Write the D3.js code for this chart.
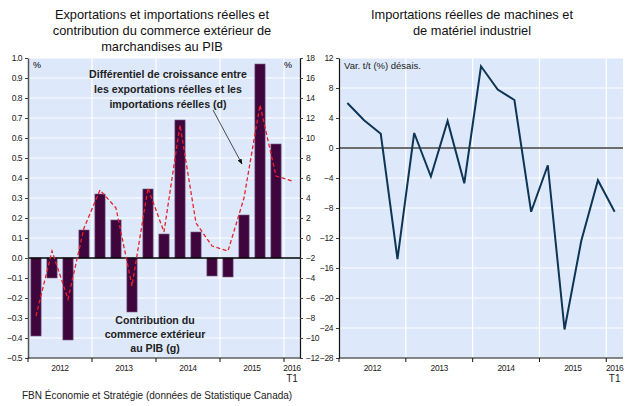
<!DOCTYPE html>
<html>
<head>
<meta charset="utf-8">
<script src="https://cdn.jsdelivr.net/npm/d3@7"></script>
<style>
  body { margin: 0; background: #fff; }
  svg text { font-family: "Liberation Sans", Arial, sans-serif; }
  .tick text { font-family: "Liberation Sans Narrow", "Liberation Sans", Arial, sans-serif; font-size: 8.5px; letter-spacing: -0.5px; fill: #222; }
</style>
</head>
<body>
<div id="chart"></div>
<script>
// quarters from 2012 T1 to 2016 T1
const quarters = ["2012T1","2012T2","2012T3","2012T4","2013T1","2013T2","2013T3","2013T4",
  "2014T1","2014T2","2014T3","2014T4","2015T1","2015T2","2015T3","2015T4","2016T1"];
const years = ["2012", "2013", "2014", "2015", "2016"];

// left chart: contribution to GDP (bars, left axis) and growth differential (dashed, right axis)
const contribution = [-0.39, -0.10, -0.41, 0.14, 0.32, 0.19, -0.27, 0.345,
  0.12, 0.69, 0.13, -0.09, -0.095, 0.215, 0.97, 0.57, null];
const differential = [-7.8, -1.3, -6.1, 1.0, 4.8, 3.0, -4.8, 5.0,
  0.6, 11.3, 1.5, -0.8, -1.3, 4.0, 13.3, 6.2, 5.7];
const leftTicks = [1.0, 0.9, 0.8, 0.7, 0.6, 0.5, 0.4, 0.3, 0.2, 0.1, 0.0, -0.1, -0.2, -0.3, -0.4, -0.5];
const rightTicks = [18, 16, 14, 12, 10, 8, 6, 4, 2, 0, -2, -4, -6, -8, -10, -12];

// right chart: machinery imports q/q
const machinery = [6.0, 3.7, 1.9, -14.8, 2.0, -3.8, 3.6, -4.7,
  10.9, 7.8, 6.4, -8.5, -2.3, -24.2, -12.4, -4.3, -8.5];
const machTicks = [12, 8, 4, 0, -4, -8, -12, -16, -20, -24, -28];

const width = 628, height = 406;
const bg = '#dde9fb';

const svg = d3.select('#chart').append('svg')
  .attr('width', width)
  .attr('height', height);

function quarterAxis(g, x, y0) {
  // year boundaries
  const step = x.step();
  const x0 = x.range()[0];
  const bounds = years.map((d, i) => x0 + i * 4 * step);
  g.append('line')
    .attr('x1', x.range()[0]).attr('x2', x.range()[1])
    .attr('y1', y0).attr('y2', y0)
    .attr('stroke', '#111').attr('stroke-width', 1.2);
  bounds.forEach(bx => {
    g.append('line')
      .attr('x1', bx).attr('x2', bx)
      .attr('y1', y0).attr('y2', y0 + 4)
      .attr('stroke', '#111');
  });
  years.forEach((yr, i) => {
    const cx = i < 4 ? x0 + (i * 4 + 2) * step : x(quarters[16]) + x.bandwidth() / 2;
    g.append('text')
      .attr('x', cx).attr('y', y0 + 13)
      .attr('text-anchor', 'middle')
      .style('font-family', '"Liberation Sans Narrow", "Liberation Sans", Arial')
      .style('font-size', '8.5px').style('letter-spacing', '-0.4px').attr('fill', '#222')
      .text(yr);
  });
  g.append('text')
    .attr('x', x(quarters[16]) + x.bandwidth() / 2).attr('y', y0 + 24)
    .attr('text-anchor', 'middle')
    .style('font-size', '10px').attr('fill', '#222')
    .text('T1');
}

// ---------- left chart ----------
const L = { left: 28, right: 300, top: 58, bottom: 358 };

const xL = d3.scaleBand()
  .domain(quarters)
  .range([L.left, L.right])
  .paddingInner(0.36)
  .paddingOuter(0.18);
const yL = d3.scaleLinear().domain([-0.5, 1.0]).range([L.bottom, L.top]);
const yR = d3.scaleLinear().domain([-12, 18]).range([L.bottom, L.top]);

const left = svg.append('g');
left.append('rect')
  .attr('x', L.left).attr('y', L.top)
  .attr('width', L.right - L.left).attr('height', L.bottom - L.top)
  .attr('fill', bg);

// grid
left.selectAll('.hgrid').data(leftTicks).join('line')
  .attr('x1', L.left).attr('x2', L.right)
  .attr('y1', d => yL(d)).attr('y2', d => yL(d))
  .attr('stroke', '#fff').attr('stroke-width', 1.2);
left.selectAll('.vgrid').data(years.slice(1)).join('line')
  .attr('x1', (d, i) => L.left + (i + 1) * 4 * xL.step())
  .attr('x2', (d, i) => L.left + (i + 1) * 4 * xL.step())
  .attr('y1', L.top).attr('y2', L.bottom)
  .attr('stroke', '#fff').attr('stroke-width', 1.2);

// bars
left.selectAll('.bar').data(quarters.map((q, i) => ({ q, v: contribution[i] })).filter(d => d.v !== null))
  .join('rect')
  .attr('x', d => xL(d.q))
  .attr('y', d => yL(Math.max(0, d.v)))
  .attr('width', xL.bandwidth())
  .attr('height', d => Math.abs(yL(d.v) - yL(0)))
  .attr('fill', '#3f063d')
  .attr('stroke', '#7c5d86')
  .attr('stroke-width', 0.6);

// zero line
left.append('line')
  .attr('x1', L.left).attr('x2', L.right)
  .attr('y1', yL(0)).attr('y2', yL(0))
  .attr('stroke', '#000').attr('stroke-width', 1.3);

// dashed differential
const lineL = d3.line()
  .x((d, i) => xL(quarters[i]) + xL.bandwidth() / 2)
  .y(d => yR(d));
left.append('path')
  .datum(differential)
  .attr('d', lineL)
  .attr('fill', 'none')
  .attr('stroke', '#e8212b')
  .attr('stroke-width', 1.3)
  .attr('stroke-dasharray', '4,2.5');

// axes
left.append('g')
  .attr('transform', `translate(${L.left},0)`)
  .call(d3.axisLeft(yL).tickValues(leftTicks).tickFormat(d3.format('.1f')).tickSize(3).tickSizeOuter(0))
  .call(g => g.select('.domain').attr('stroke', '#555').attr('stroke-width', 1.5))
  .call(g => g.selectAll('.tick line').attr('stroke', '#444'));
left.append('g')
  .attr('transform', `translate(${L.right},0)`)
  .call(d3.axisRight(yR).tickValues(rightTicks).tickSize(3).tickSizeOuter(0))
  .call(g => g.select('.domain').attr('stroke', '#111').attr('stroke-width', 1.2))
  .call(g => g.selectAll('.tick line').attr('stroke', '#444'));
quarterAxis(left, xL, L.bottom);

// labels
left.append('text').attr('x', 33).attr('y', 68).style('font-size', '9px').text('%');
left.append('text').attr('x', 284).attr('y', 68).style('font-size', '9px').text('%');

const titleL = ['Exportations et importations réelles et', 'contribution du commerce extérieur de', 'marchandises au PIB'];
left.selectAll('.title').data(titleL).join('text')
  .attr('x', 162).attr('y', (d, i) => 19 + i * 16)
  .attr('text-anchor', 'middle')
  .style('font-size', '12.8px').attr('fill', '#111')
  .text(d => d);

const diffLabel = ['Différentiel de croissance entre', 'les exportations réelles et les', 'importations réelles (d)'];
left.selectAll('.dlab').data(diffLabel).join('text')
  .attr('x', 168).attr('y', (d, i) => 78 + i * 15)
  .attr('text-anchor', 'middle')
  .style('font-size', '10.6px').style('font-weight', 'bold').attr('fill', '#222')
  .text(d => d);

const contribLabel = ['Contribution du', 'commerce extérieur', 'au PIB (g)'];
left.selectAll('.clab').data(contribLabel).join('text')
  .attr('x', 155).attr('y', (d, i) => 324 + i * 14)
  .attr('text-anchor', 'middle')
  .style('font-size', '10.6px').style('font-weight', 'bold').attr('fill', '#222')
  .text(d => d);

// arrow
svg.append('defs').append('marker')
  .attr('id', 'arr').attr('viewBox', '0 0 10 10')
  .attr('refX', 9).attr('refY', 5)
  .attr('markerWidth', 7).attr('markerHeight', 7)
  .attr('orient', 'auto')
  .append('path').attr('d', 'M0,1 L10,5 L0,9 Z').attr('fill', '#111');
left.append('line')
  .attr('x1', 213).attr('y1', 110).attr('x2', 242).attr('y2', 164)
  .attr('stroke', '#222').attr('stroke-width', 0.8)
  .attr('marker-end', 'url(#arr)');

// ---------- right chart ----------
const R = { left: 339, right: 623, top: 58, bottom: 358 };
const xR = d3.scaleBand()
  .domain(quarters)
  .range([R.left, R.right])
  .padding(0);
const yM = d3.scaleLinear().domain([-28, 12]).range([R.bottom, R.top]);

const right = svg.append('g');
right.append('rect')
  .attr('x', R.left).attr('y', R.top)
  .attr('width', R.right - R.left).attr('height', R.bottom - R.top)
  .attr('fill', bg);
right.selectAll('.hgrid').data(machTicks).join('line')
  .attr('x1', R.left).attr('x2', R.right)
  .attr('y1', d => yM(d)).attr('y2', d => yM(d))
  .attr('stroke', '#fff').attr('stroke-width', 1.2);
right.selectAll('.vgrid').data(years.slice(1)).join('line')
  .attr('x1', (d, i) => R.left + (i + 1) * 4 * xR.step())
  .attr('x2', (d, i) => R.left + (i + 1) * 4 * xR.step())
  .attr('y1', R.top).attr('y2', R.bottom)
  .attr('stroke', '#fff').attr('stroke-width', 1.2);

right.append('line')
  .attr('x1', R.left).attr('x2', R.right)
  .attr('y1', yM(0)).attr('y2', yM(0))
  .attr('stroke', '#6e6e6e').attr('stroke-width', 2);

const lineR = d3.line()
  .x((d, i) => xR(quarters[i]) + xR.bandwidth() / 2)
  .y(d => yM(d));
right.append('path')
  .datum(machinery)
  .attr('d', lineR)
  .attr('fill', 'none')
  .attr('stroke', '#0e3654')
  .attr('stroke-width', 2);

right.append('g')
  .attr('transform', `translate(${R.left},0)`)
  .call(d3.axisLeft(yM).tickValues(machTicks).tickSize(3).tickSizeOuter(0))
  .call(g => g.select('.domain').attr('stroke', '#111').attr('stroke-width', 1.2))
  .call(g => g.selectAll('.tick line').attr('stroke', '#444'));
quarterAxis(right, xR, R.bottom);

right.append('text').attr('x', 344).attr('y', 69)
  .style('font-size', '9.5px').attr('fill', '#222')
  .text('Var. t/t (%) désais.');

const titleR = ['Importations réelles de machines et', 'de matériel industriel'];
right.selectAll('.title').data(titleR).join('text')
  .attr('x', 472).attr('y', (d, i) => 19 + i * 16)
  .attr('text-anchor', 'middle')
  .style('font-size', '12.8px').attr('fill', '#111')
  .text(d => d);

// source
svg.append('text')
  .attr('x', 22).attr('y', 399)
  .style('font-size', '10px').attr('fill', '#222')
  .text('FBN Économie et Stratégie (données de Statistique Canada)');
</script>
</body>
</html>
